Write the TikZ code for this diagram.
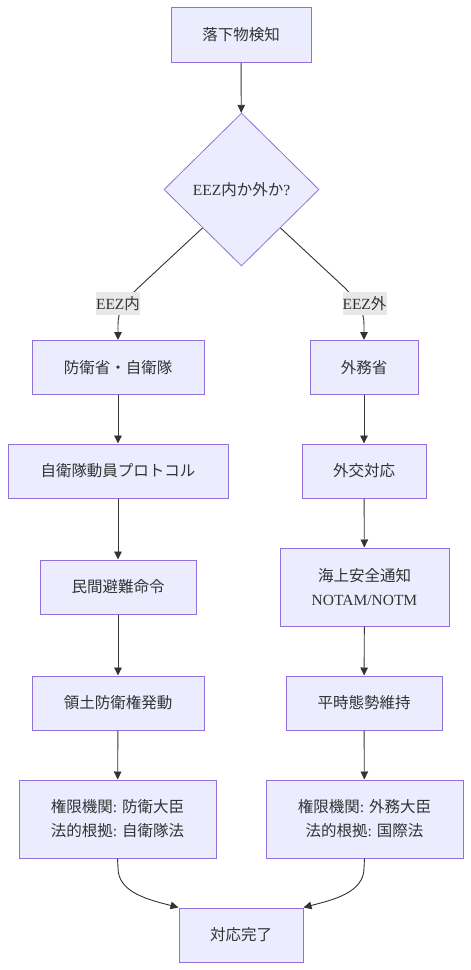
\documentclass[tikz,border=0pt]{standalone}
\usepackage{fontspec}
\setmainfont{Noto Sans CJK JP}
\newfontfamily\lat{Liberation Serif}
\usetikzlibrary{shapes.geometric,arrows.meta}
\definecolor{boxfill}{HTML}{ECECFF}
\definecolor{boxline}{HTML}{9370DB}
\definecolor{ink}{HTML}{333333}
\definecolor{lblbg}{HTML}{E8E8E8}
\begin{document}
\begin{tikzpicture}[x=1pt,y=-1pt,
 box/.style={draw=boxline, fill=boxfill, line width=1pt, inner sep=0pt, minimum height=54pt, text=ink, font=\fontsize{15.5}{24}\selectfont, align=center},
 dia/.style={diamond, draw=boxline, fill=boxfill, line width=0.8pt, inner sep=0pt, minimum width=155pt, minimum height=153pt, text=ink, font=\fontsize{15.5}{24}\selectfont},
 edge/.style={draw=ink, line width=0.9pt, -{Triangle[length=8pt,width=7.5pt]}},
 elabel/.style={fill=lblbg, text=ink, inner sep=0pt, minimum width=44pt, minimum height=23pt, font=\fontsize{15.5}{24}\selectfont}]
\useasboundingbox (0,0) rectangle (471,970);
\node[box, minimum width=140pt, minimum height=55pt] (A) at (241,35) {落下物検知};
\node[dia] (D) at (241.5,189.5) {{\lat EEZ}内か外か{\lat ?}};
\node[box, minimum width=172pt] (B1) at (118,367.5) {防衛省・自衛隊};
\node[box, minimum width=108pt] (C1) at (364,367.5) {外務省};
\node[box, minimum width=220pt] (B2) at (118,471) {自衛隊動員プロトコル};
\node[box, minimum width=124pt] (C2) at (364,471) {外交対応};
\node[box, minimum width=156pt] (B3) at (118,587) {民間避難命令};
\node[box, minimum width=169pt, minimum height=78pt] (C3) at (364.5,587) {海上安全通知\\{\lat NOTAM/NOTM}};
\node[box, minimum width=172pt] (B4) at (118,703) {領土防衛権発動};
\node[box, minimum width=156pt] (C4) at (364,703) {平時態勢維持};
\node[box, minimum width=197pt, minimum height=78pt] (B5) at (117.5,819) {権限機関{\lat : }防衛大臣\\法的根拠{\lat : }自衛隊法};
\node[box, minimum width=197pt, minimum height=78pt] (C5) at (364.5,819) {権限機関{\lat : }外務大臣\\法的根拠{\lat : }国際法};
\node[box, minimum width=124pt] (E) at (241,935) {対応完了};

\draw[edge] (A) -- (D);
\draw[edge] (D.south west) -- (138,288) .. controls (124,302) and (118,310) .. (118,325) -- (B1.north);
\draw[edge] (D.south east) -- (345,288) .. controls (358,302) and (364,310) .. (364,325) -- (C1.north);
\node[elabel] (L1) at (118,303.5) {{\lat EEZ}内};
\node[elabel] (L2) at (364.5,303.5) {{\lat EEZ}外};
\draw[edge] (B1) -- (B2);
\draw[edge] (B2) -- (B3);
\draw[edge] (B3) -- (B4);
\draw[edge] (B4) -- (B5);
\draw[edge] (C1) -- (C2);
\draw[edge] (C2) -- (C3);
\draw[edge] (C3) -- (C4);
\draw[edge] (C4) -- (C5);
\draw[edge] (B5.south) -- (118,868) .. controls (118,893) and (150,900) .. (E.north west);
\draw[edge] (C5.south) -- (364,868) .. controls (364,893) and (332,900) .. (E.north east);
\end{tikzpicture}
\end{document}
